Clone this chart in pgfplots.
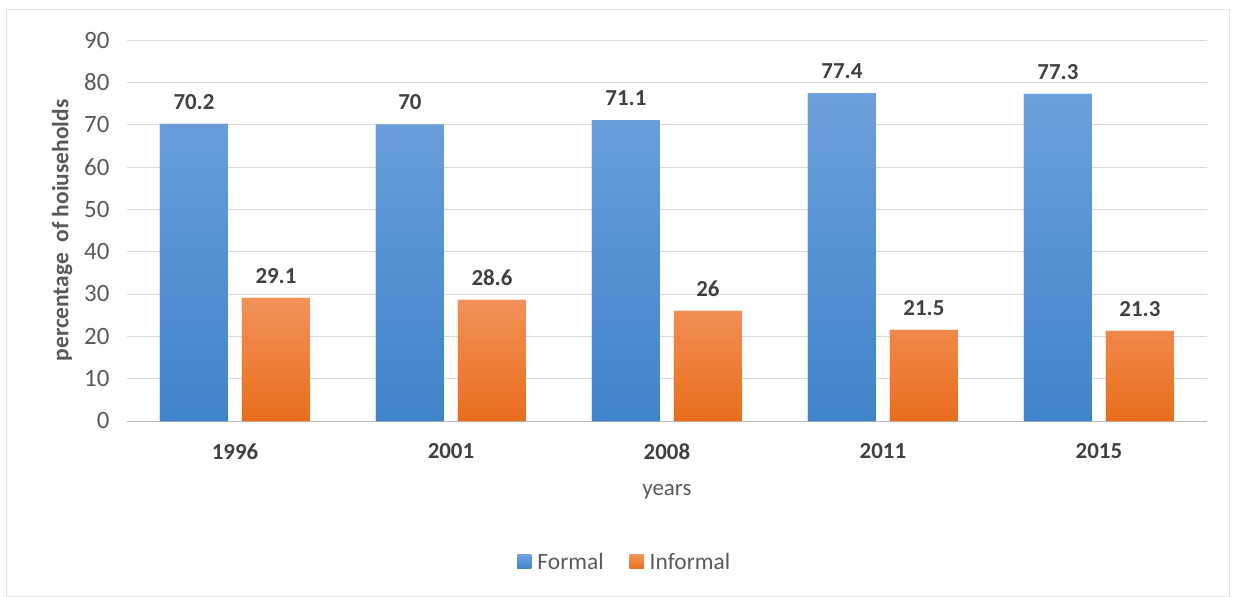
\documentclass[border=0pt]{standalone}
\usepackage{pgfplots}
\pgfplotsset{compat=1.18}
\usepackage{fontspec}
\setmainfont{Carlito}
\definecolor{tickgray}{HTML}{595959}
\definecolor{labgray}{HTML}{404040}
\definecolor{gridgray}{HTML}{D9D9D9}
\definecolor{blueT}{HTML}{6CA0DC}
\definecolor{blueB}{HTML}{3F83CA}
\definecolor{oranT}{HTML}{F2925A}
\definecolor{oranB}{HTML}{E86D1C}
\begin{document}
\begin{tikzpicture}
\useasboundingbox (-127bp,-176bp) rectangle (1109bp,421bp);
\draw[gray!22, line width=1bp] (-120bp,-175bp) rectangle (1102bp,411bp);
\begin{axis}[
  at={(0,0)}, anchor=south west,
  scale only axis, width=1080bp, height=381bp,
  xmin=-0.5, xmax=4.5, ymin=0, ymax=90,
  ytick={0,10,...,90},
  xtick={0,1,2,3,4},
  xticklabels={1996,2001,2008,2011,2015},
  /pgf/number format/assume math mode=true,
  ymajorgrids, grid style={gridgray, line width=0.8bp},
  axis x line*=bottom,
  axis y line*=left,
  x axis line style={draw=gray!55, line width=1bp, -},
  y axis line style={draw=none},
  major tick length=0pt,
  yticklabel style={font=\fontsize{25}{28}\selectfont, text=tickgray, xshift=-14bp},
  xticklabel style={font=\fontsize{23}{26}\selectfont\bfseries, text=labgray, yshift=-19bp},
  ybar=14bp, bar width=68bp,
  nodes near coords,
  every node near coord/.append style={font=\fontsize{23}{26}\selectfont\bfseries, text=labgray, yshift=11bp},
  xlabel={years},
  xlabel style={at={(axis description cs:0.5,-0.186)}, anchor=center, font=\fontsize{23}{26}\selectfont, text=tickgray},
  ylabel={percentage\ \ of hoiuseholds},
  ylabel style={at={(axis description cs:-0.06,0.5)}, anchor=center, rotate=0, font=\fontsize{23.5}{26}\selectfont\bfseries, text=tickgray},
  legend style={at={(axis description cs:0.461,-0.37)}, anchor=center, legend columns=2, draw=none, fill=none,
    font=\fontsize{23.5}{26}\selectfont, text=tickgray,
    /tikz/every odd column/.append style={column sep=4bp},
    /tikz/every even column/.append style={column sep=24bp}},
  legend image code/.code={\fill[#1] (0bp,-7bp) rectangle (14bp,7bp);},
]
\addplot[draw=none, fill=blueB, top color=blueT, bottom color=blueB] coordinates {(0,70.2) (1,70) (2,71.1) (3,77.4) (4,77.3)};
\addplot[draw=none, fill=oranB, top color=oranT, bottom color=oranB] coordinates {(0,29.1) (1,28.6) (2,26) (3,21.5) (4,21.3)};
\legend{Formal,Informal}
\end{axis}
\end{tikzpicture}
\end{document}
